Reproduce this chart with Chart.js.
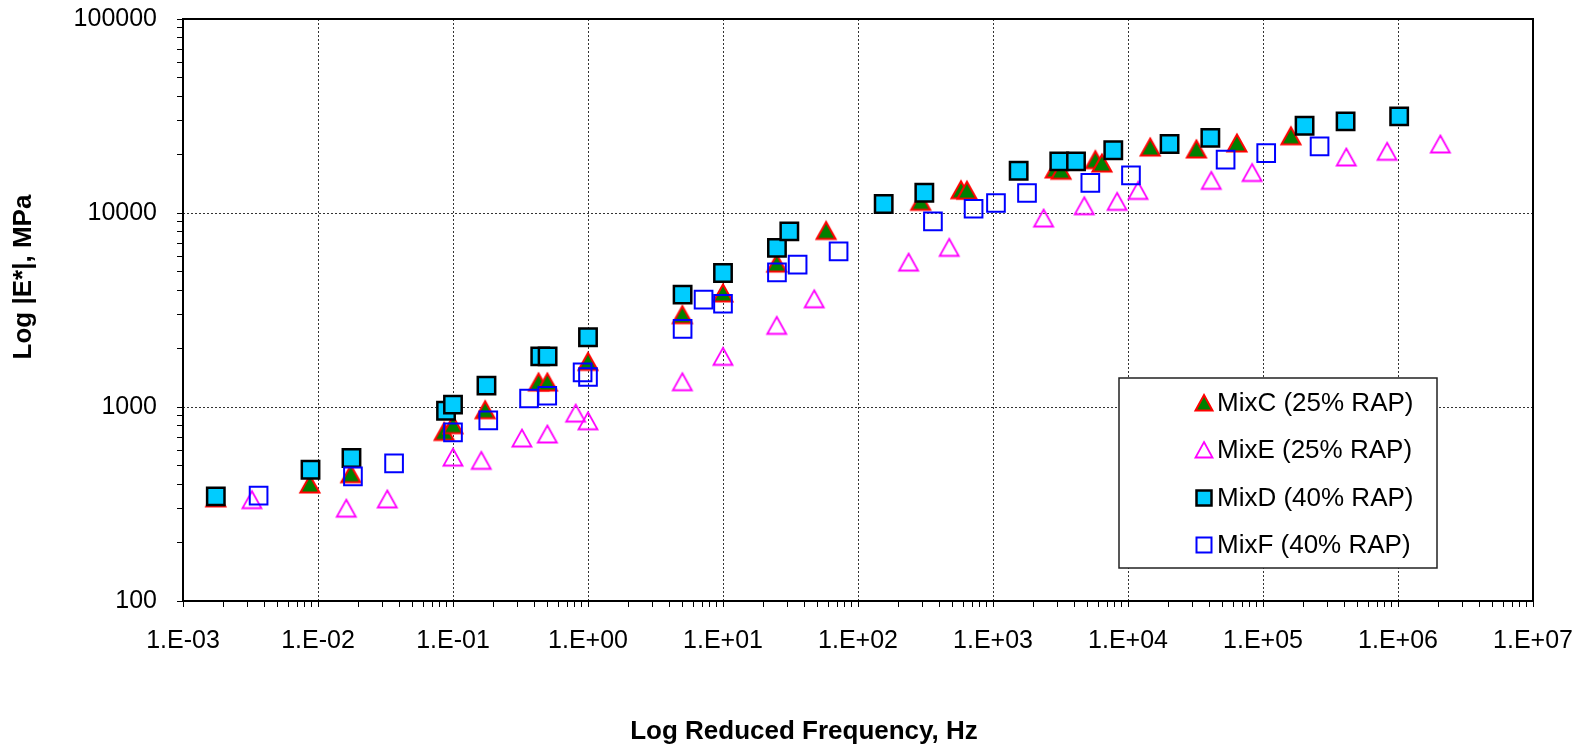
<!DOCTYPE html>
<html>
<head>
<meta charset="utf-8">
<script src="https://cdn.jsdelivr.net/npm/chart.js@4.4.1/dist/chart.umd.min.js"></script>
<style>
  html, body { margin: 0; padding: 0; background: #fff; }
  #chart { display: block; }
</style>
</head>
<body>
<canvas id="chart" width="1585" height="746"></canvas>
<script>
// --- data (reduced frequency Hz, |E*| MPa) ---
const mixCFreq = [0.00175, 0.0087, 0.0175, 0.086, 0.1, 0.173, 0.43, 0.5, 1.0, 5.0, 10, 25, 58, 291, 579, 641, 2890, 3190, 5730, 6410, 14600, 32100, 64100, 161000];
const mixCMod  = [340, 401, 453, 748, 811, 968, 1345, 1345, 1718, 2992, 3873, 5520, 8130, 11480, 13180, 13100, 16870, 16600, 18840, 18100, 21880, 21380, 22960, 25000];

const mixEFreq = [0.00324, 0.0162, 0.0326, 0.1, 0.162, 0.324, 0.5, 0.81, 1.0, 5.0, 10, 25, 47.4, 237, 474, 2371, 4742, 8300, 11860, 41400, 83000, 414000, 830000, 2060000];
const mixEMod  = [333, 301, 336, 552, 531, 692, 726, 930, 849, 1350, 1824, 2636, 3613, 5585, 6653, 9420, 10900, 11480, 13080, 14730, 16180, 19450, 20800, 22690];

const mixDFreq = [0.00175, 0.0088, 0.0177, 0.0888, 0.1, 0.177, 0.443, 0.502, 1.0, 5.02, 10, 25.1, 31, 155, 310, 1549, 3097, 4120, 7780, 20320, 40740, 203200, 409000, 1020000];
const mixDMod  = [346, 475, 546, 957, 1028, 1288, 1824, 1824, 2287, 3793, 4909, 6607, 8040, 11130, 12720, 16520, 18450, 18450, 21050, 22690, 24380, 28180, 29650, 31480];

const mixFFreq = [0.00363, 0.01815, 0.0366, 0.1, 0.1825, 0.366, 0.499, 0.912, 1.0, 5.02, 7.18, 10, 25.1, 35.7, 71.8, 359, 718, 1052, 1786, 5260, 10520, 52840, 105600, 262400];
const mixFMod  = [349, 439, 512, 740, 853, 1106, 1143, 1507, 1428, 2525, 3573, 3406, 4940, 5416, 6340, 9050, 10520, 11260, 12680, 14290, 15620, 18840, 20360, 22030];

const seriesNames = ["MixC (25% RAP)", "MixE (25% RAP)", "MixD (40% RAP)", "MixF (40% RAP)"];

const xMajorTicks = [1e-3, 1e-2, 1e-1, 1e0, 1e1, 1e2, 1e3, 1e4, 1e5, 1e6, 1e7];
const xTickLabels = ["1.E-03", "1.E-02", "1.E-01", "1.E+00", "1.E+01", "1.E+02", "1.E+03", "1.E+04", "1.E+05", "1.E+06", "1.E+07"];
const yMajorTicks = [100, 1000, 10000, 100000];
const yTickLabels = ["100", "1000", "10000", "100000"];

const xTitle = "Log Reduced Frequency, Hz";
const yTitle = "Log |E*|, MPa";

const FONT = "'Liberation Sans', Arial, Helvetica, sans-serif";

const toPoints = (xs, ys) => xs.map((x, i) => ({ x: x, y: ys[i] }));

// majors plus 2..9 minor marks in between
const buildLogTicks = (majors) => {
  const ticks = [];
  majors.forEach((m, i) => {
    ticks.push({ value: m, major: true });
    if (i < majors.length - 1) {
      for (let k = 2; k <= 9; k++) ticks.push({ value: m * k, major: false });
    }
  });
  return ticks;
};

const labelFor = (majors, labels) => (value, index, ticks) => {
  if (!ticks[index].major) return '';
  const j = majors.findIndex(m => Math.abs(Math.log10(m) - Math.log10(value)) < 1e-6);
  return j >= 0 ? labels[j] : '';
};

// no extra room for labels hanging past the plot ends
const noOverhang = (scale) => {
  scale.paddingTop = 0;
  scale.paddingBottom = 0;
  scale.paddingLeft = 0;
  scale.paddingRight = 0;
};

// Excel style triangle: centred on its bounding box, not on its centroid
const triangleMarker = (fill, stroke, lw) => {
  const c = document.createElement('canvas');
  c.width = 26;
  c.height = 24;
  const g = c.getContext('2d');
  g.beginPath();
  g.moveTo(13, 3.5);
  g.lineTo(22.5, 20.5);
  g.lineTo(3.5, 20.5);
  g.closePath();
  if (fill) { g.fillStyle = fill; g.fill(); }
  g.strokeStyle = stroke;
  g.lineWidth = lw;
  g.lineJoin = 'miter';
  g.stroke();
  return c;
};

const gridOpts = {
  display: true,
  drawOnChartArea: true,
  drawTicks: true,
  tickLength: 6,
  lineWidth: 1,
  color: (ctx) => (ctx.tick && ctx.tick.major ? 'rgba(0,0,0,0.8)' : 'rgba(0,0,0,0)'),
  tickColor: '#000',
  tickBorderDash: [],
};

// frame, axis titles, legend box
const decorPlugin = {
  id: 'decor',
  beforeDatasetsDraw(chart) {
    const { ctx, chartArea: a } = chart;
    ctx.save();
    ctx.strokeStyle = '#000';
    ctx.lineWidth = 2;
    ctx.strokeRect(a.left, a.top, a.right - a.left, a.bottom - a.top);
    ctx.restore();
  },
  afterDraw(chart) {
    const { ctx } = chart;
    ctx.save();
    ctx.fillStyle = '#000';
    ctx.font = "bold 26px " + FONT;
    ctx.textAlign = 'center';
    ctx.textBaseline = 'middle';
    ctx.fillText(xTitle, 804, 732);
    ctx.translate(24, 277);
    ctx.rotate(-Math.PI / 2);
    ctx.fillText(yTitle, 0, 0);
    ctx.restore();

    // legend
    const box = { left: 1119, top: 378, right: 1437, bottom: 568 };
    ctx.save();
    ctx.fillStyle = '#fff';
    ctx.fillRect(box.left, box.top, box.right - box.left, box.bottom - box.top);
    ctx.strokeStyle = '#222';
    ctx.lineWidth = 1.5;
    ctx.strokeRect(box.left, box.top, box.right - box.left, box.bottom - box.top);
    const rows = [403, 450, 498, 545];
    chart.data.datasets.forEach((ds, i) => {
      const cx = 1204, cy = rows[i];
      ctx.beginPath();
      if (ds.markerKind === 'triangle') {
        ctx.moveTo(cx, cy - 8);
        ctx.lineTo(cx + 8.5, cy + 7.5);
        ctx.lineTo(cx - 8.5, cy + 7.5);
        ctx.closePath();
      } else {
        const h = 7.5;
        ctx.rect(cx - h, cy - h, 2 * h, 2 * h);
      }
      if (ds.markerFill) {
        ctx.fillStyle = ds.markerFill;
        ctx.fill();
      }
      ctx.strokeStyle = ds.borderColor;
      ctx.lineWidth = ds.borderWidth;
      ctx.stroke();
      ctx.fillStyle = '#000';
      ctx.font = "26px " + FONT;
      ctx.textAlign = 'left';
      ctx.textBaseline = 'middle';
      ctx.fillText(ds.label, 1217, cy + 1);
    });
    ctx.restore();
  }
};

new Chart(document.getElementById('chart').getContext('2d'), {
  type: 'scatter',
  data: {
    datasets: [
      { label: seriesNames[0], data: toPoints(mixCFreq, mixCMod), markerKind: 'triangle', markerFill: '#008000',
        pointStyle: triangleMarker('#008000', '#ff0000', 2), pointRadius: 12,
        backgroundColor: '#008000', borderColor: '#ff0000', borderWidth: 2, order: 4 },
      { label: seriesNames[1], data: toPoints(mixEFreq, mixEMod), markerKind: 'triangle', markerFill: null,
        pointStyle: triangleMarker(null, '#ff00ff', 1.8), pointRadius: 12,
        backgroundColor: 'rgba(0,0,0,0)', borderColor: '#ff00ff', borderWidth: 1.8, order: 3 },
      { label: seriesNames[2], data: toPoints(mixDFreq, mixDMod), markerKind: 'rect', markerFill: '#00ccff',
        pointStyle: 'rect', pointRadius: 12.3,
        backgroundColor: '#00ccff', borderColor: '#000000', borderWidth: 2.5, order: 2 },
      { label: seriesNames[3], data: toPoints(mixFFreq, mixFMod), markerKind: 'rect', markerFill: null,
        pointStyle: 'rect', pointRadius: 12.5,
        backgroundColor: 'rgba(0,0,0,0)', borderColor: '#0000ff', borderWidth: 2, order: 1 },
    ],
  },
  options: {
    responsive: false,
    animation: false,
    layout: { padding: { left: 0, right: 52, top: 19, bottom: 0 } },
    plugins: {
      legend: { display: false },
      tooltip: { enabled: false },
    },
    scales: {
      x: {
        type: 'logarithmic',
        min: 1e-3,
        max: 1e7,
        border: { display: false, dash: [2, 2] },
        grid: gridOpts,
        afterBuildTicks: (scale) => { scale.ticks = buildLogTicks(xMajorTicks); },
        afterFit: (scale) => { scale.height = 145; noOverhang(scale); },
        ticks: {
          autoSkip: false,
          maxRotation: 0,
          padding: 19,
          color: '#000',
          font: { family: FONT, size: 25 },
          callback: labelFor(xMajorTicks, xTickLabels),
        },
        title: { display: false },
      },
      y: {
        type: 'logarithmic',
        min: 100,
        max: 100000,
        border: { display: false, dash: [2, 2] },
        grid: gridOpts,
        afterBuildTicks: (scale) => { scale.ticks = buildLogTicks(yMajorTicks); },
        afterFit: (scale) => { scale.width = 183; noOverhang(scale); },
        ticks: {
          autoSkip: false,
          padding: 20,
          color: '#000',
          font: { family: FONT, size: 25 },
          callback: labelFor(yMajorTicks, yTickLabels),
        },
        title: { display: false },
      },
    },
  },
  plugins: [decorPlugin],
});
</script>
</body>
</html>
